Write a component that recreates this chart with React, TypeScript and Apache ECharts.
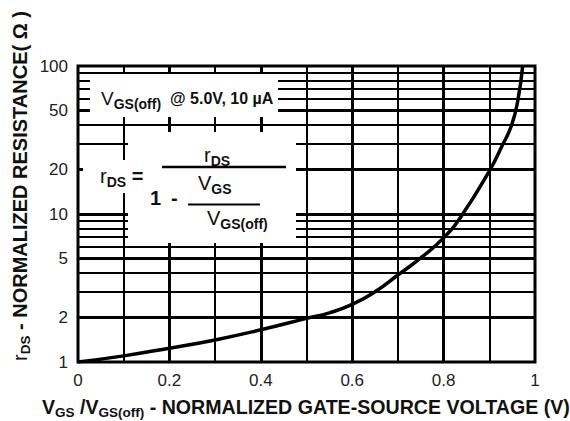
import React, { useEffect, useRef } from 'react';
import * as echarts from 'echarts';

// ---- data ----
const xTickValues = [0, 0.2, 0.4, 0.6, 0.8, 1];
const yTickValues = [1, 2, 5, 10, 20, 50, 100];
const vGridMajor = [0.2, 0.4, 0.6, 0.8];
const vGridMinor = [0.1, 0.3, 0.5, 0.7, 0.9];
const hGridMajor = [2, 5, 10, 20, 50];
const hGridMinor = [3, 4, 6, 7, 8, 9, 30, 40, 60, 70, 80, 90];
const curveX = [0, 0.1, 0.2, 0.3, 0.4, 0.5, 0.55, 0.6, 0.65, 0.7, 0.75, 0.8, 0.84, 0.9, 0.927, 0.949, 0.963, 0.973];
const curveR = [1, 1.1, 1.24, 1.41, 1.65, 1.97, 2.15, 2.45, 2.98, 3.87, 5.05, 6.9, 9.8, 19.5, 28.5, 40, 60, 100];

const FONT = 'Arial, "Liberation Sans", Helvetica, sans-serif';

const rich: any = {
  m: { fontSize: 20, fontWeight: 'normal', lineHeight: 26, fontFamily: FONT },
  mt: { fontSize: 19, fontWeight: 'normal', lineHeight: 26, fontFamily: FONT },
  mb: { fontSize: 20, fontWeight: 'bold', lineHeight: 26, fontFamily: FONT },
  s: { fontSize: 14, fontWeight: 'bold', lineHeight: 12, verticalAlign: 'bottom', fontFamily: FONT },
  b: { fontSize: 16, fontWeight: 'bold', lineHeight: 26, fontFamily: FONT },
  tm: { fontSize: 19.6, fontWeight: 'bold', lineHeight: 24, fontFamily: FONT },
  ym: { fontSize: 20, fontWeight: 'bold', lineHeight: 24, fontFamily: FONT },
  yr: { fontSize: 20, fontWeight: 'normal', lineHeight: 24, fontFamily: FONT },
  ts: { fontSize: 13.5, fontWeight: 'bold', lineHeight: 14, verticalAlign: 'bottom', fontFamily: FONT },
};

function txt(x: number, y: number, text: string, extra: any = {}) {
  return {
    type: 'text',
    x,
    y,
    z: 101,
    ...extra,
    style: {
      text,
      fill: '#111',
      align: extra.align || 'left',
      verticalAlign: 'middle',
      fontFamily: FONT,
      rich,
    },
  };
}

export default function App() {
  const ref = useRef<HTMLDivElement>(null);
  useEffect(() => {
    if (!ref.current) return;
    const chart = echarts.init(ref.current, undefined, { renderer: 'svg' });
    const gridLines: any[] = [
      ...vGridMajor.map((v) => ({ xAxis: v, lineStyle: { width: 3 } })),
      ...vGridMinor.map((v) => ({ xAxis: v, lineStyle: { width: 2 } })),
      ...hGridMajor.map((v) => ({ yAxis: v, lineStyle: { width: 3 } })),
      ...hGridMinor.map((v) => ({ yAxis: v, lineStyle: { width: 2 } })),
    ];
    chart.setOption({
      animation: false,
      grid: {
        left: 78,
        right: 35,
        top: 66,
        bottom: 59,
        show: true,
        borderColor: '#000',
        borderWidth: 3,
        backgroundColor: '#fff',
      },
      xAxis: {
        type: 'value',
        min: 0,
        max: 1,
        interval: 0.1,
        axisLine: { show: false },
        axisTick: { show: false },
        splitLine: { show: false },
        axisLabel: {
          customValues: xTickValues,
          margin: 10,
          fontSize: 17,
          color: '#222',
          fontFamily: FONT,
          formatter: (v: number) => String(Math.round(v * 10) / 10),
        },
      },
      yAxis: {
        type: 'log',
        logBase: 10,
        min: 1,
        max: 100,
        axisLine: { show: false },
        axisTick: { show: false },
        splitLine: { show: false },
        minorSplitLine: { show: false },
        axisLabel: {
          customValues: yTickValues,
          margin: 10,
          fontSize: 17,
          color: '#222',
          fontFamily: FONT,
          formatter: (v: number) => String(Math.round(v)),
        },
      },
      series: [
        {
          type: 'line',
          z: 3,
          data: [],
          silent: true,
          markLine: {
            silent: true,
            symbol: ['none', 'none'],
            animation: false,
            label: { show: false },
            lineStyle: { color: '#000', type: 'solid', width: 2 },
            emphasis: { disabled: true },
            data: gridLines,
          },
        },
        {
          type: 'line',
          z: 5,
          data: curveX.map((x, i) => [x, curveR[i]]),
          smooth: 0.5,
          showSymbol: false,
          symbol: 'none',
          lineStyle: { color: '#000', width: 3.5 },
        },
      ],
      graphic: [
        { type: 'rect', z: 100, shape: { x: 90, y: 74, width: 188, height: 43 }, style: { fill: '#fff' } },
        { type: 'rect', z: 100, shape: { x: 128, y: 132, width: 168, height: 111 }, style: { fill: '#fff' } },
        { type: 'rect', z: 100, shape: { x: 83, y: 160, width: 45, height: 33 }, style: { fill: '#fff' } },
        { type: 'line', z: 101, shape: { x1: 162, y1: 167, x2: 286, y2: 167 }, style: { stroke: '#000', lineWidth: 2.5 } },
        { type: 'line', z: 101, shape: { x1: 188, y1: 204.5, x2: 260, y2: 204.5 }, style: { stroke: '#000', lineWidth: 2 } },
        txt(101, 98, '{mt|V}{s|GS(off)}{b|  @ 5.0V, 10 µA}'),
        txt(100, 176, '{m|r}{s|DS}{mb| =}'),
        txt(204, 155, '{m|r}{s|DS}'),
        txt(198, 183, '{m|V}{s|GS}'),
        txt(150, 198, '{mb|1}'),
        txt(171, 198, '{mb|-}'),
        txt(207, 218, '{m|V}{s|GS(off)}'),
        txt(42, 407, '{tm|V}{ts|GS}{tm| /V}{ts|GS(off)}{tm| - NORMALIZED GATE-SOURCE VOLTAGE (V)}'),
        txt(20, 186, '{yr|r}{ts|DS}{ym| - NORMALIZED RESISTANCE( Ω )}', { rotation: Math.PI / 2, align: 'center' }),
      ],
    });
    return () => chart.dispose();
  }, []);
  return (
    <div
      ref={ref}
      style={{ position: 'fixed', left: 0, top: 0, width: 570, height: 421, background: '#fff' }}
    />
  );
}
